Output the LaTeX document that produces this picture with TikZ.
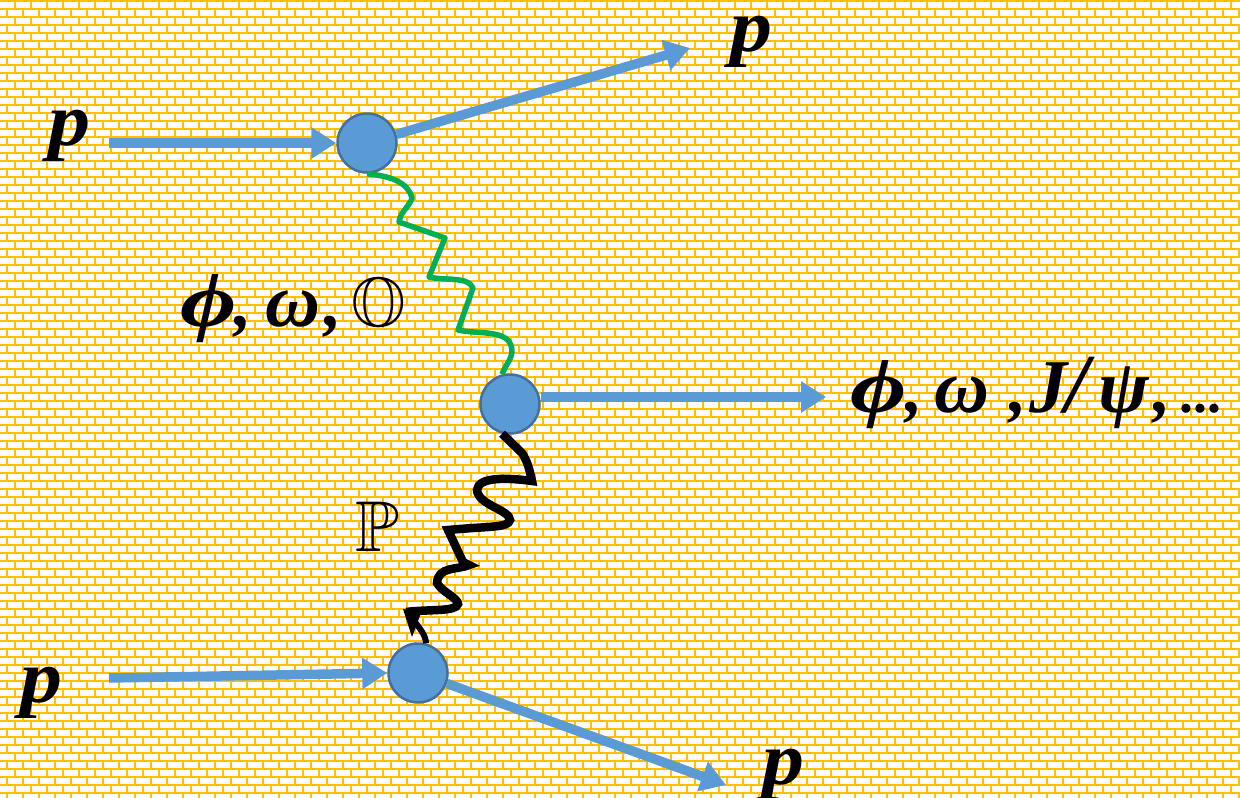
\documentclass[tikz,border=0pt]{standalone}
\usepackage{amssymb}
\usepackage{fontspec}
\usetikzlibrary{arrows.meta,positioning}
\newfontfamily\partfont{Liberation Serif}
\newfontfamily\widefont{Liberation Serif}[FakeStretch=1.28]
\newfontfamily\protonfont{Liberation Serif}[FakeStretch=1.12]
\definecolor{brick}{HTML}{FFC000}
\definecolor{vertexblue}{HTML}{5B9BD5}
\definecolor{vertexedge}{HTML}{41719C}
\definecolor{wavegreen}{HTML}{00B050}
\newcommand{\partlabel}[1]{\fontsize{75}{75}\selectfont\protonfont\bfseries\itshape #1}
\newcommand{\mesonlabel}[1]{\fontsize{76}{76}\selectfont\partfont\bfseries\itshape #1}
\newcommand{\philabel}{{\fontsize{76}{76}\selectfont\widefont\bfseries\itshape ϕ}}
\newcommand{\commalabel}{{\fontsize{70}{70}\selectfont\partfont\bfseries\itshape ,}}
\begin{document}
\begin{tikzpicture}[x=1pt,y=-1pt,>=Latex,
  vertex/.style={circle,draw=vertexedge,line width=2.5pt,fill=vertexblue,minimum size=59pt,inner sep=0pt},
  proton/.style={line width=9.5pt,draw=vertexblue,-{Triangle[length=25pt,width=30pt]}},
  green wave/.style={line width=5.5pt,draw=wavegreen,line join=round},
  black wave/.style={line width=8.5pt,draw=black,line join=miter}]
\useasboundingbox (0,0) rectangle (1240,798);
% brick background
\fill[white] (0,0) rectangle (1240,798);
\foreach \y in {1,9,...,793} \draw[brick,line width=2.2pt] (0,\y)--(1240,\y);
\foreach \y in {0,16,...,784} {
  \foreach \x in {15,31,...,1239} \draw[brick,line width=2.2pt] (\x,\y+2)--(\x,\y+8);
  \foreach \x in {7,23,...,1239} \draw[brick,line width=2.2pt] (\x,\y+10)--(\x,\y+16);
}
% vertices
\node[vertex] (top) at (367,143) {};
\node[vertex] (mid) at (510,404) {};
\node[vertex] (bot) at (418,673) {};
% free ends
\coordinate (topin) at (109,143);
\coordinate (topout) at (690,48);
\coordinate (midout) at (826,397);
\coordinate (botin) at (109,678);
\coordinate (botout) at (726,785);
\coordinate (pomtip) at (403,609);
% protons and meson
\draw[proton] (topin)--(top.west);
\draw[proton] (top)--(topout);
\draw[proton] (mid.east|-midout)--(midout);
\draw[proton] (botin)--(bot.west);
\draw[proton] (bot)--(botout);
% exchanges
\draw[green wave] (top.south) .. controls (390,176) and (408,182) .. (412,198)
  .. controls (410,206) and (400,212) .. (399,222) -- (445,238) -- (429,277)
  .. controls (445,281) and (468,276) .. (473,288) -- (458,330)
  .. controls (480,335) and (512,328) .. (512,352) .. controls (511,360) and (505,366) .. (mid.105);
\draw[black wave] (mid.255) -- (522,453) .. controls (528,462) and (530,472) .. (532,481)
  .. controls (510,478) and (478,476) .. (477,490) .. controls (478,505) and (510,510) .. (510,520)
  .. controls (508,528) and (490,526) .. (448,530) -- (463,562) -- (469,565)
  .. controls (458,570) and (438,566) .. (437,583) .. controls (442,592) and (458,598) .. (458,604)
  .. controls (456,612) and (430,609) .. (406,612);
\draw[line width=6pt] (bot.75) .. controls (426,636) and (420,628) .. (413,620);
\fill (pomtip) -- (421,613) -- (412,637) -- cycle;
% labels
\node[anchor=base,inner sep=0pt] (pa) at (69,145) {\partlabel{p}};
\node[anchor=base,inner sep=0pt] (pb) at (751,51) {\partlabel{p}};
\node[anchor=base,inner sep=0pt] (pc) at (41,702) {\partlabel{p}};
\node[anchor=base,inner sep=0pt] (pd) at (783,784) {\partlabel{p}};
\node[anchor=base west,inner sep=0pt] (exch) at (180,326) {\philabel\hspace{-2pt}\commalabel\hspace{14pt}\mesonlabel{ω}\hspace{4pt}\commalabel\hspace{9pt}{\fontsize{70}{70}\selectfont$\mathbb{O}$}};
\node[anchor=base west,inner sep=0pt] (prod) at (850,412) {\philabel\hspace{-1pt}\commalabel\hspace{12pt}\mesonlabel{ω}\hspace{20pt}\commalabel\hspace{2pt}\mesonlabel{J}\hspace{-2pt}{\fontsize{84}{84}\selectfont\partfont\itshape /}\hspace{10pt}\mesonlabel{ψ}\hspace{4pt}\commalabel\hspace{10pt}{\fontsize{56}{56}\selectfont\partfont\bfseries ...}};
\node[anchor=base,inner sep=0pt] (pom) at (377,551) {\fontsize{72}{72}\selectfont$\mathbb{P}$};
\end{tikzpicture}
\end{document}
